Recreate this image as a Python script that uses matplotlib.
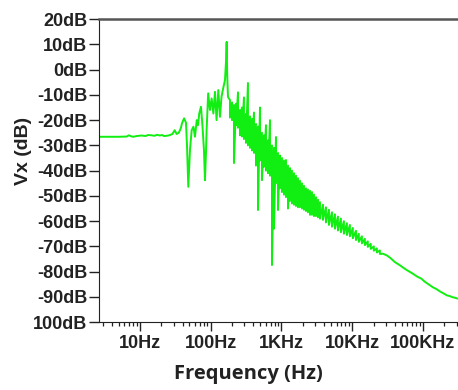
import numpy as np
import matplotlib
matplotlib.use("Agg")
import matplotlib.pyplot as plt
from matplotlib import font_manager
from matplotlib.ticker import FixedLocator, LogLocator, NullFormatter

# flat part and the first resonances (Hz, dB)
a_freq = [2.6, 5.0, 6.5, 7.0, 7.5, 8.0, 9.0, 10.5, 12.0, 13.0, 14.5, 16.0, 17.5, 19.0, 20.5,
          22.0, 24.0, 26.0, 28.8, 30.9, 33.0, 35.4, 38.0, 39.2, 42.0, 44.7, 46.2, 48.2, 49.3,
          50.9, 53.8, 57.0, 59.9, 63.5, 66.1, 68.8, 72.8, 76.6, 80.3, 82.9, 85.7, 87.5, 92.0,
          97.6, 103, 109, 114.8, 121, 128, 135.1, 142, 150, 159, 164.3, 168, 171, 175.3]
a_db = [-26.6, -26.6, -26.5, -26.0, -26.4, -26.6, -26.3, -26.1, -26.3, -25.9, -26.0, -26.2,
        -25.8, -26.1, -25.9, -26.3, -26.2, -26.0, -25.5, -24.0, -25.5, -25.0, -23.0, -21.3,
        -19.3, -21.0, -30.0, -46.4, -40.0, -31.9, -24.0, -22.6, -26.6, -20.0, -22.0, -17.4,
        -14.7, -22.6, -32.0, -43.8, -33.0, -24.0, -9.4, -16.0, -11.4, -17.4, -8.8, -20.0,
        -8.1, -18.7, -10.8, -7.4, -4.2, 3.0, 11.0, -2.0, -10.8]

# noisy band: upper and lower swing at each frequency
band_freq = [187, 200, 213, 228, 243, 259, 276, 295, 315, 336, 359, 383, 409, 436, 466, 497,
             530, 566, 604, 645, 688, 734, 784, 836, 893, 952, 1016, 1085, 1158, 1236, 1318,
             1407, 1502, 1603, 1710, 1825, 1948, 2079, 2219, 2368, 2529, 2699, 2879, 3073,
             3280, 3500, 3860, 4250, 4690, 5170, 5700, 6280, 6920, 7630, 8410, 9270, 10200,
             11300, 12400, 13700, 15100, 16600, 18300, 20200, 22300, 24600]
band_hi = [-12, -13, -14, -13.5, -9, -16, -15, -11, -17.5, -5.3, -18.5, -19.5, -17, -21.5,
           -22.5, -15, -25, -26, -22, -28, -20, -30, -31, -26.7, -33, -34, -35, -36, -35.8,
           -38, -39, -40, -41, -42, -43, -44, -45, -46, -47, -47.5, -48, -48.5, -49.5, -50.5,
           -51.5, -52.5, -53.5, -54.5, -55.5, -56.5, -57.3, -58.2, -59, -60, -60.8, -61.5,
           -62.7, -63.8, -65, -66, -67, -68, -69, -70, -70.8, -71.6]
band_lo = [-19, -20, -37, -22, -23, -26, -26.5, -27.5, -29, -30, -31, -32, -33, -38, -55.6,
           -36, -43.8, -38.5, -40, -41, -42, -77.4, -63, -45, -55.6, -47, -48.5, -49.5, -50.5,
           -55, -52, -53, -53.5, -54, -54.5, -54.5, -55, -55.5, -56, -56.5, -57.5, -57.5, -58,
           -58, -58.5, -59, -59.5, -60.5, -61.5, -62.2, -63, -63.7, -64.4, -65, -65.5, -66,
           -66.8, -67.5, -68.2, -68.8, -69.5, -70.2, -71, -71.7, -72.4, -73]

# smooth roll-off
tail_freq = [27200, 31000, 35000, 40000, 47300, 53000, 60000, 70000, 82200, 95000, 105000,
             120000, 138000, 155000, 175000, 195000, 218000, 240000, 260000, 280000, 302800,
             315000]
tail_db = [-72.9, -73.6, -74.7, -76.2, -77.5, -78.5, -79.5, -80.6, -81.9, -82.8, -83.9, -85.0,
           -86.2, -86.9, -87.9, -88.6, -89.4, -89.7, -90.1, -90.3, -90.6, -90.7]

x_ticks = [10, 100, 1e3, 1e4, 1e5]
x_labels = ["10Hz", "100Hz", "1KHz", "10KHz", "100KHz"]
y_ticks = [20, 10, 0, -10, -20, -30, -40, -50, -60, -70, -80, -90, -100]
y_labels = ["20dB", "10dB", "0dB", "-10dB", "-20dB", "-30dB", "-40dB", "-50dB", "-60dB",
            "-70dB", "-80dB", "-90dB", "100dB"]


def bold_font(stem, fallback):
    # pick the exact bold file, so "Narrow" variants are not matched
    for f in font_manager.fontManager.ttflist:
        if f.fname.endswith(stem):
            return font_manager.FontProperties(fname=f.fname)
    return font_manager.FontProperties(family=fallback, weight="bold")


def build_series():
    bf = np.repeat(band_freq, 2)
    bd = np.column_stack([band_hi, band_lo]).ravel()
    freq = np.concatenate([a_freq, bf, tail_freq])
    db = np.concatenate([a_db, bd, tail_db])
    return freq, db


def main():
    arial_b = bold_font("LiberationSans-Bold.ttf", "DejaVu Sans")
    open_b = bold_font("OpenSans-Bold.ttf", "DejaVu Sans")

    fig = plt.figure(figsize=(4.58, 3.9), dpi=100)
    ax = fig.add_axes([0.216, 0.174, 0.784, 0.777])

    freq, db = build_series()
    ax.plot(freq, db, color="#11ee11", lw=1.4)

    ax.set_xscale("log")
    ax.set_xlim(2.63, 312600)
    ax.set_ylim(-100, 20)

    ax.xaxis.set_major_locator(FixedLocator(x_ticks))
    ax.set_xticklabels(x_labels)
    ax.xaxis.set_minor_locator(LogLocator(base=10, subs=np.arange(2, 10)))
    ax.xaxis.set_minor_formatter(NullFormatter())
    ax.set_yticks(y_ticks)
    ax.set_yticklabels(y_labels)

    ax.tick_params(axis="both", which="major", width=1.0, color="#222222")
    ax.tick_params(axis="y", length=7.5, pad=1)
    ax.tick_params(axis="x", which="major", length=6.5, pad=3)
    ax.tick_params(axis="x", which="minor", length=3, width=0.9, color="#222222")
    for lab in ax.get_xticklabels() + ax.get_yticklabels():
        lab.set_fontproperties(arial_b)
        lab.set_fontsize(13)
        lab.set_color("#222222")

    ax.spines["right"].set_visible(False)
    ax.spines["top"].set_color("#555555")
    ax.spines["top"].set_linewidth(1.8)
    ax.spines["left"].set_color("#222222")
    ax.spines["bottom"].set_color("#222222")

    xl = ax.set_xlabel("Frequency (Hz)", color="#222222")
    xl.set_fontproperties(open_b)
    xl.set_fontsize(14.5)
    xl.set_va("center")
    ax.xaxis.set_label_coords(0.417, -0.17)
    yl = ax.set_ylabel("Vx (dB)", color="#222222")
    yl.set_fontproperties(arial_b)
    yl.set_fontsize(14)
    yl.set_va("center")
    ax.yaxis.set_label_coords(-0.21, 0.566)

    fig.savefig("out.png", dpi=100)
    plt.close(fig)


if __name__ == "__main__":
    main()
